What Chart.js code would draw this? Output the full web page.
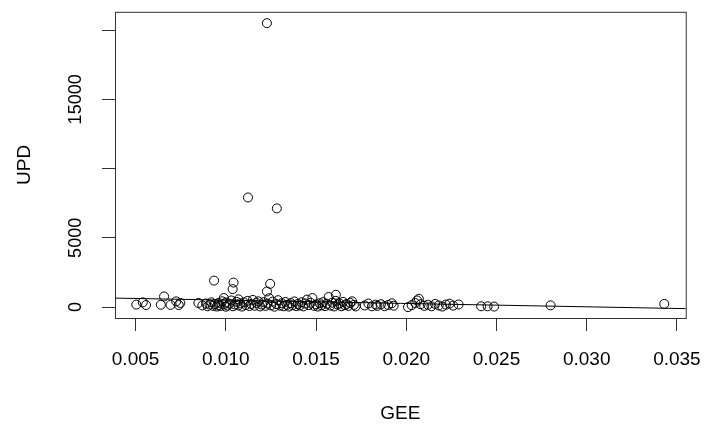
<!DOCTYPE html>
<html>
<head>
<meta charset="utf-8">
<script src="https://cdn.jsdelivr.net/npm/chart.js@4/dist/chart.umd.min.js"></script>
<style>
  html, body { margin: 0; padding: 0; background: #fff; }
  #wrap { width: 718px; height: 424px; }
</style>
</head>
<body>
<div id="wrap"><canvas id="plot" width="718" height="424"></canvas></div>
<script>
// GEE (x) and UPD (y), one pair per circle
const gee = [
  0.00504, 0.0054, 0.00558, 0.0064, 0.00658, 0.00694, 0.00725, 0.00739, 0.00748, 0.00848,
  0.00935, 0.01043, 0.01038, 0.01246, 0.01228, 0.01123, 0.01283, 0.01228, 0.00989,
  0.0087, 0.0089, 0.0090, 0.0091, 0.0092, 0.0093, 0.0094, 0.0095, 0.0096, 0.0096,
  0.0097, 0.0098, 0.0099, 0.0100, 0.0100, 0.0101, 0.0102, 0.0103, 0.0104, 0.0105,
  0.0106, 0.0107, 0.0107, 0.0108, 0.0109, 0.0110, 0.0111, 0.0112, 0.0113, 0.0114,
  0.0115, 0.0116, 0.0117, 0.0118, 0.0119, 0.0120, 0.0121, 0.0122, 0.0123, 0.0124,
  0.0125, 0.0126, 0.0127, 0.0128, 0.0129, 0.0130, 0.0131, 0.0132, 0.0133, 0.0134,
  0.0135, 0.0136, 0.0137, 0.0138, 0.0139,
  0.0140, 0.0141, 0.0142, 0.0143, 0.0144, 0.0145, 0.0146, 0.0147, 0.0148, 0.0149,
  0.0150, 0.0151, 0.0152, 0.0153, 0.0154, 0.0155, 0.0156, 0.0157, 0.0158, 0.0159,
  0.0160, 0.0161, 0.0161, 0.0162, 0.0163, 0.0164, 0.0165, 0.0166, 0.0167, 0.0168,
  0.0169, 0.0170, 0.0171, 0.0172,
  0.0177, 0.0179, 0.0181, 0.0183, 0.0184, 0.0186, 0.0188, 0.0190, 0.0192, 0.0193,
  0.0201, 0.0203, 0.0205, 0.0206, 0.0207, 0.0208, 0.0210, 0.0212, 0.0214, 0.0216,
  0.0218, 0.0220, 0.0222, 0.0224, 0.0226, 0.0229,
  0.02415, 0.02451, 0.02487, 0.0280, 0.0343
];
const upd = [
  180, 345, 150, 170, 770, 160, 414, 150, 300, 300,
  1914, 1771, 1300, 1679, 1129, 7914, 7129, 20500, 655,
  120, 260, 60, 180, 350, 90, 220, 40, 300, 150,
  80, 420, 200, 30, 330, 110, 250, 480, 60, 190,
  380, 120, 560, 270, 40, 340, 150, 450, 80, 230,
  520, 100, 300, 420, 50, 190, 360, 90, 260, 640,
  130, 400, 30, 220, 500, 110, 280, 60, 370, 170,
  40, 290, 140, 410, 70,
  230, 120, 350, 50, 260, 540, 150, 310, 655, 90,
  200, 40, 280, 130, 360, 70, 240, 730, 110, 320,
  50, 450, 890, 180, 270, 60, 380, 140, 230, 90,
  300, 420, 160, 50,
  120, 260, 60, 180, 90, 210, 70, 150, 280, 100,
  0, 140, 300, 480, 600, 210, 90, 170, 60, 230,
  120, 40, 180, 250, 110, 190,
  60, 60, 40, 130, 230
];

// fitted line UPD = a + b * GEE
const fitIntercept = 743;
const fitSlope = -24030;

const xTicks = [0.005, 0.010, 0.015, 0.020, 0.025, 0.030, 0.035];
const yTicks = [0, 5000, 10000, 15000, 20000];
const yLabelled = [0, 5000, 15000];

const xMin = 0.00386, xMax = 0.03549;
const yMin = -786, yMax = 21321;

const points = gee.map((g, i) => ({ x: g, y: upd[i] }));
const fitLine = [xMin, xMax].map(g => ({ x: g, y: fitIntercept + fitSlope * g }));

const FONT = 'Liberation Sans, Arial, sans-serif';
const INK = '#333';

// R style box around the plotting region
const boxPlugin = {
  id: 'box',
  beforeDatasetsDraw(chart) {
    const { ctx, chartArea: a } = chart;
    ctx.save();
    ctx.strokeStyle = INK;
    ctx.lineWidth = 1;
    ctx.strokeRect(a.left + 0.5, a.top + 0.5, a.right - a.left, a.bottom - a.top);
    ctx.restore();
  }
};

new Chart(document.getElementById('plot'), {
  type: 'scatter',
  data: {
    datasets: [
      {
        data: points,
        pointStyle: 'circle',
        pointRadius: 4.5,
        pointHoverRadius: 4.5,
        pointBorderWidth: 1,
        pointBorderColor: '#000',
        pointBackgroundColor: 'rgba(0,0,0,0)',
      },
      {
        type: 'line',
        data: fitLine,
        borderColor: '#000',
        borderWidth: 1,
        pointRadius: 0,
        fill: false,
      }
    ]
  },
  options: {
    responsive: false,
    animation: false,
    layout: { padding: { top: 9, right: 21, left: 0, bottom: 0 } },
    plugins: {
      legend: { display: false },
      tooltip: { enabled: false },
    },
    scales: {
      x: {
        type: 'linear',
        min: xMin,
        max: xMax,
        afterBuildTicks: (scale) => { scale.ticks = xTicks.map(v => ({ value: v })); },
        afterFit: (scale) => { scale.height = 106; },
        ticks: {
          color: '#000',
          font: { family: FONT, size: 19 },
          padding: 17,
          maxRotation: 0,
          callback: (v) => Number(v).toFixed(3),
        },
        grid: { drawOnChartArea: false, drawTicks: true, tickLength: 13, color: INK },
        border: { display: false },
        title: {
          display: true,
          text: 'GEE',
          color: '#000',
          font: { family: FONT, size: 19 },
          padding: { top: 0, bottom: -1 },
        },
      },
      y: {
        type: 'linear',
        min: yMin,
        max: yMax,
        afterBuildTicks: (scale) => { scale.ticks = yTicks.map(v => ({ value: v })); },
        afterFit: (scale) => { scale.width = 115; },
        ticks: {
          color: '#000',
          font: { family: FONT, size: 18 },
          minRotation: 90,
          maxRotation: 90,
          crossAlign: 'center',
          padding: 1,
          callback: (v) => (yLabelled.includes(v) ? String(v) : ''),
        },
        grid: { drawOnChartArea: false, drawTicks: true, tickLength: 13, color: INK },
        border: { display: false },
        title: {
          display: true,
          text: 'UPD',
          color: '#000',
          font: { family: FONT, size: 19 },
          padding: { top: 13, bottom: 0 },
        },
      },
    },
  },
  plugins: [boxPlugin],
});
</script>
</body>
</html>
